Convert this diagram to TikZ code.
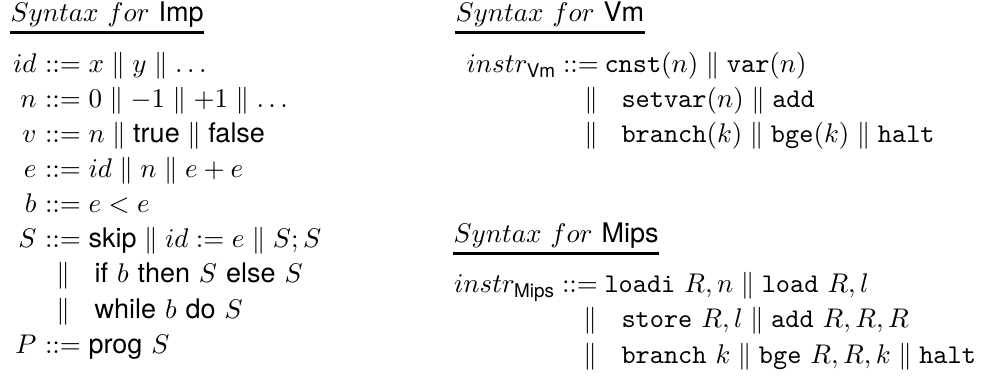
\documentclass[tikz,border=0pt]{standalone}
\usepackage{amsmath}
\usepackage{fontspec}
\setsansfont{TeX Gyre Heros}
\newcommand{\gor}{\mathrel{\|}}
\newcommand{\gis}{\mathrel{::=}}
\newcommand{\kw}[1]{\textsf{#1}}
\newcommand{\ins}[1]{\texttt{#1}}
\begin{document}
\begin{tikzpicture}[x=0.3704pt,y=-0.3704pt,
  ttl/.style={anchor=base west,inner sep=0pt},
  uline/.style={line width=0.8pt},
  lhs/.style={anchor=base east,inner sep=0pt},
  opn/.style={anchor=base,inner sep=0pt},
  rhs/.style={anchor=base west,inner sep=0pt}]
\useasboundingbox (0,0) rectangle (981,377);
% ---------- Imp ----------
\node[ttl] (timp) at (10,22) {$Syntax\ for$ \kw{Imp}};
\draw[uline] ([yshift=-3.9pt]timp.base west) -- ([yshift=-3.9pt]timp.base east);
\node[opn] (o1) at (63,73) {$\gis$};
\node[lhs] (l1) at (37,73) {$id$};
\node[rhs] (r1) at (88,73) {$x \gor y \gor \dots$};
\node[opn] (o2) at (63,108) {$\gis$};
\node[lhs] (l2) at (37,108) {$n$};
\node[rhs] (r2) at (88,108) {$0 \gor -1 \gor +1 \gor \dots$};
\node[opn] (o3) at (63,143) {$\gis$};
\node[lhs] (l3) at (37,143) {$v$};
\node[rhs] (r3) at (88,143) {$n \gor \kw{true} \gor \kw{false}$};
\node[opn] (o4) at (63,178) {$\gis$};
\node[lhs] (l4) at (37,178) {$e$};
\node[rhs] (r4) at (88,178) {$id \gor n \gor e+e$};
\node[opn] (o5) at (63,213) {$\gis$};
\node[lhs] (l5) at (37,213) {$b$};
\node[rhs] (r5) at (88,213) {$e<e$};
\node[opn] (o6) at (63,248) {$\gis$};
\node[lhs] (l6) at (37,248) {$S$};
\node[rhs] (r6) at (88,248) {$\kw{skip} \gor id := e \gor S;S$};
\node[opn] (o7) at (63,283) {$\|$};
\node[rhs] (r7) at (94,283) {$\kw{if}\ b\ \kw{then}\ S\ \kw{else}\ S$};
\node[opn] (o8) at (63,318) {$\|$};
\node[rhs] (r8) at (94,318) {$\kw{while}\ b\ \kw{do}\ S$};
\node[opn] (o9) at (63,353) {$\gis$};
\node[lhs] (l9) at (37,353) {$P$};
\node[rhs] (r9) at (88,353) {$\kw{prog}\ S$};
% ---------- Vm ----------
\node[ttl] (tvm) at (455,22) {$Syntax\ for$ \kw{Vm}};
\draw[uline] ([yshift=-3.9pt]tvm.base west) -- ([yshift=-3.9pt]tvm.base east);
\node[opn] (v1) at (581,73) {$\gis$};
\node[lhs] (vl1) at (557,73) {$instr_{\mathsf{Vm}}$};
\node[rhs] (vr1) at (604,73) {$\ins{cnst}(n) \gor \ins{var}(n)$};
\node[opn] (v2) at (591,108) {$\|$};
\node[rhs] (vr2) at (621,108) {$\ins{setvar}(n) \gor \ins{add}$};
\node[opn] (v3) at (591,143) {$\|$};
\node[rhs] (vr3) at (621,143) {$\ins{branch}(k) \gor \ins{bge}(k) \gor \ins{halt}$};
% ---------- Mips ----------
\node[ttl] (tmips) at (453,243) {$Syntax\ for$ \kw{Mips}};
\draw[uline] ([yshift=-3.9pt]tmips.base west) -- ([yshift=-3.9pt]tmips.base east);
\node[opn] (m1) at (580,293) {$\gis$};
\node[lhs] (ml1) at (556,293) {$instr_{\mathsf{Mips}}$};
\node[rhs] (mr1) at (604,293) {$\ins{loadi}\ R,n \gor \ins{load}\ R,l$};
\node[opn] (m2) at (590,328) {$\|$};
\node[rhs] (mr2) at (621,328) {$\ins{store}\ R,l \gor \ins{add}\ R,R,R$};
\node[opn] (m3) at (590,363) {$\|$};
\node[rhs] (mr3) at (621,363) {$\ins{branch}\ k \gor \ins{bge}\ R,R,k \gor \ins{halt}$};
\end{tikzpicture}
\end{document}
